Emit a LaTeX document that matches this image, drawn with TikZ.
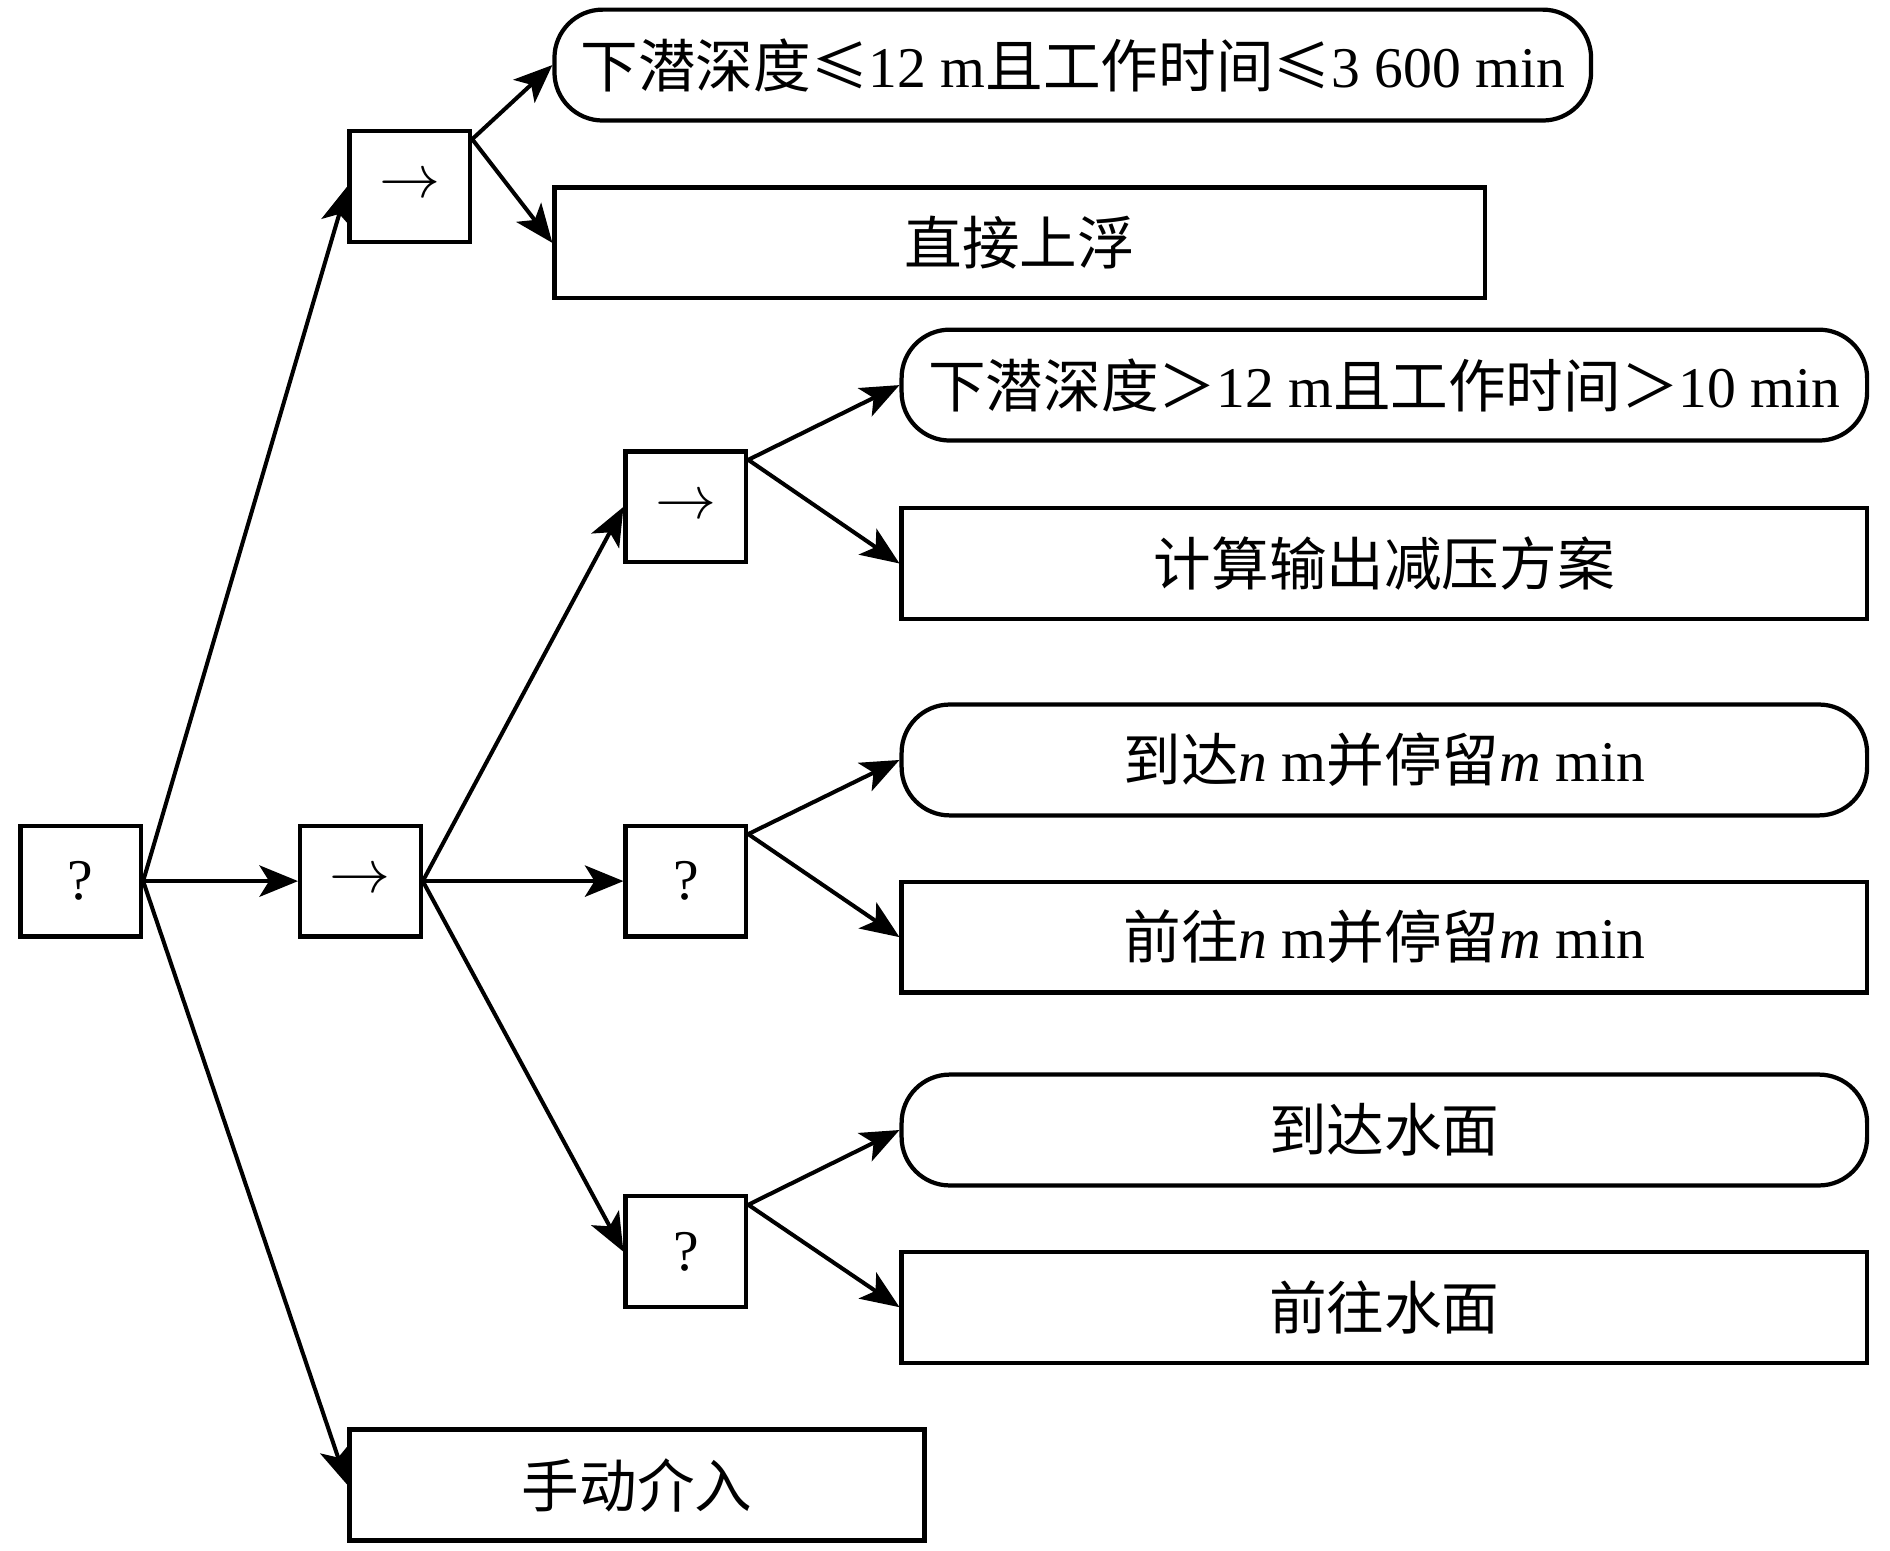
\documentclass[tikz,border=0pt]{standalone}
\usepackage{fontspec}
\setmainfont{Liberation Serif}
\newfontfamily\cjk{Noto Sans CJK SC}
\usetikzlibrary{positioning, arrows.meta}

\begin{document}
\begin{tikzpicture}[x=1mm, y=1mm, on grid, line width=0.95pt,
    >={Stealth[length=3.2mm, width=2.6mm, inset=0.8mm]},
    font=\fontsize{13.6}{16}\selectfont]
        \tikzset{
            ctrl/.style={draw, line width=1pt, minimum width=10mm, minimum height=9.2mm, inner sep=0pt},
            cond/.style={draw, line width=1pt, rounded corners=4mm, minimum height=9.2mm, inner sep=0pt},
            act/.style={draw, line width=1pt, minimum height=9.2mm, inner sep=0pt}
        }
        \useasboundingbox (0,0) rectangle (156.8,-128.6);

        % control nodes
        \node[ctrl] (root) at (6.7,-73.1) {?};
        \node[ctrl] (seqmain) [right=23.2mm of root] {$\rightarrow$};
        \node[ctrl] (sel3) [right=27mm of seqmain] {?};
        \node[ctrl] (seq2) [above=31.05mm of sel3] {$\rightarrow$};
        \node[ctrl] (sel4) [below=30.75mm of sel3] {?};
        \node[ctrl] (seq1) at (34,-15.45) {$\rightarrow$};

        % conditions and actions
        \node[cond, minimum width=86mm] (c1) at (89,-5.4) {{\cjk 下潜深度≤}12 m{\cjk 且工作时间≤}3 600 min};
        \node[act, minimum width=77.2mm] (a1) at (84.6,-20.15) {\cjk 直接上浮};
        \node[act, minimum width=47.7mm] (manual) at (52.85,-123.2) {\cjk 手动介入};

        \node[cond, minimum width=80.1mm] (c2) at (114.85,-31.95) {{\cjk 下潜深度＞}12 m{\cjk 且工作时间＞}10 min};
        \node[act, minimum width=80.1mm] (a2) [below=14.8mm of c2] {\cjk 计算输出减压方案};
        \node[cond, minimum width=80.1mm] (c3) [below=16.3mm of a2] {{\cjk 到达}\textit{n} m{\cjk 并停留}\textit{m} min};
        \node[act, minimum width=80.1mm] (a3) [below=14.7mm of c3] {{\cjk 前往}\textit{n} m{\cjk 并停留}\textit{m} min};
        \node[cond, minimum width=80.1mm] (c4) [below=16mm of a3] {\cjk 到达水面};
        \node[act, minimum width=80.1mm] (a4) [below=14.7mm of c4] {\cjk 前往水面};

        \path[->]
        (root.east) edge (seq1.west)
        (root.east) edge (seqmain.west)
        (root.east) edge (manual.west)

        (seq1.37) edge (c1.west)
        (seq1.37) edge (a1.west)

        (seqmain.east) edge (seq2.west)
        (seqmain.east) edge (sel3.west)
        (seqmain.east) edge (sel4.west)

        (seq2.37) edge (c2.west)
        (seq2.37) edge (a2.west)
        (sel3.37) edge (c3.west)
        (sel3.37) edge (a3.west)
        (sel4.37) edge (c4.west)
        (sel4.37) edge (a4.west);
    \end{tikzpicture}
\end{document}
